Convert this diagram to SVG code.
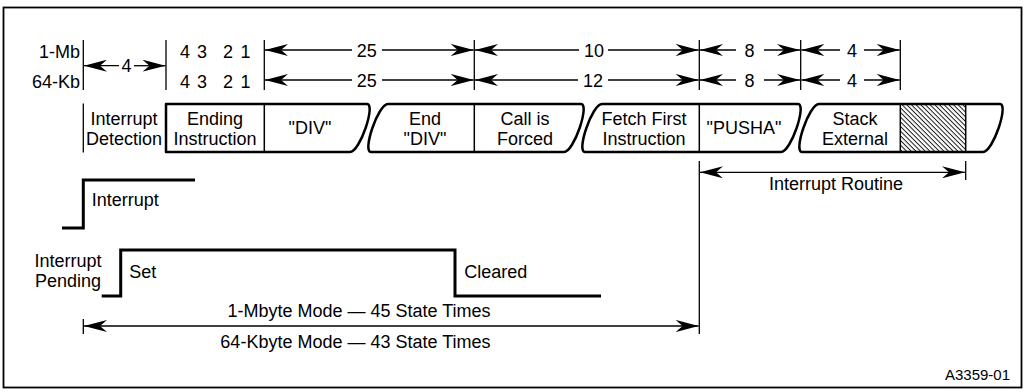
<svg xmlns="http://www.w3.org/2000/svg" width="1026" height="392" viewBox="0 0 1026 392">
<style>
text{font-family:"Liberation Sans",Arial,Helvetica,sans-serif;font-size:18px;fill:#000}
.m{text-anchor:middle}
.e{text-anchor:end}
.tk{stroke:#000;stroke-width:1.3;fill:none}
.ar{stroke:#000;stroke-width:1.3;fill:none}
.seg{stroke:#000;stroke-width:2.5;fill:none;stroke-linejoin:round}
.dv{stroke:#000;stroke-width:1.5}
.sig{stroke:#000;stroke-width:3;fill:none;stroke-linejoin:miter}
</style>
<defs>
<marker id="ah" viewBox="-23 -6 23 12" refX="0" refY="0" markerWidth="23" markerHeight="12" markerUnits="userSpaceOnUse" orient="auto-start-reverse">
<path d="M0,0 L-23,-6 L-16,0 L-23,6 Z" fill="#000"/>
</marker>
<pattern id="hatch" width="3.3" height="3.3" patternUnits="userSpaceOnUse" patternTransform="rotate(45)">
<line x1="0" y1="0.5" x2="3.3" y2="0.5" stroke="#000" stroke-width="0.9"/>
</pattern>
</defs>
<rect id="frame" x="3.5" y="7.5" width="1018" height="380" fill="#fff" stroke="#000" stroke-width="1.8"/>

<g id="scale-labels">
<text class="e" x="80" y="57.5">1-Mb</text>
<text class="e" x="80" y="87.5">64-Kb</text>
<text class="m" x="185" y="57.5">4</text><text class="m" x="202" y="57.5">3</text><text class="m" x="228" y="57.5">2</text><text class="m" x="245.5" y="57.5">1</text>
<text class="m" x="185" y="87.5">4</text><text class="m" x="202" y="87.5">3</text><text class="m" x="228" y="87.5">2</text><text class="m" x="245.5" y="87.5">1</text>
<text class="m" x="126.5" y="72">4</text>
<text class="m" x="366.7" y="56.5">25</text>
<text class="m" x="594" y="56.5">10</text>
<text class="m" x="749.5" y="56.5">8</text>
<text class="m" x="852" y="56.5">4</text>
<text class="m" x="366.7" y="86.5">25</text>
<text class="m" x="593" y="86.5">12</text>
<text class="m" x="749.5" y="86.5">8</text>
<text class="m" x="852" y="86.5">4</text>
</g>

<g id="connectors">
<g class="tk">
<line x1="83.3" y1="40" x2="83.3" y2="90"/>
<line x1="166" y1="40" x2="166" y2="90"/>
<line x1="264.3" y1="40" x2="264.3" y2="90"/>
<line x1="474.3" y1="40" x2="474.3" y2="90"/>
<line x1="699.3" y1="40" x2="699.3" y2="90"/>
<line x1="800.7" y1="40" x2="800.7" y2="90"/>
<line x1="900.3" y1="40" x2="900.3" y2="90"/>
<line x1="83.3" y1="103.5" x2="83.3" y2="152.5"/>
<line x1="699.3" y1="161" x2="699.3" y2="334"/>
<line x1="965.7" y1="161" x2="965.7" y2="180"/>
<line x1="83.3" y1="319" x2="83.3" y2="334"/>
</g>
<g class="ar">
<line x1="84" y1="65.7" x2="119" y2="65.7" marker-start="url(#ah)"/>
<line x1="134" y1="65.7" x2="165.5" y2="65.7" marker-end="url(#ah)"/>
<line x1="265" y1="50" x2="352" y2="50" marker-start="url(#ah)"/>
<line x1="382" y1="50" x2="473.7" y2="50" marker-end="url(#ah)"/>
<line x1="475" y1="50" x2="579" y2="50" marker-start="url(#ah)"/>
<line x1="608" y1="50" x2="698.7" y2="50" marker-end="url(#ah)"/>
<line x1="700" y1="50" x2="736" y2="50" marker-start="url(#ah)"/>
<line x1="764" y1="50" x2="800" y2="50" marker-end="url(#ah)"/>
<line x1="801.4" y1="50" x2="840" y2="50" marker-start="url(#ah)"/>
<line x1="864" y1="50" x2="899.7" y2="50" marker-end="url(#ah)"/>
<line x1="265" y1="80" x2="352" y2="80" marker-start="url(#ah)"/>
<line x1="382" y1="80" x2="473.7" y2="80" marker-end="url(#ah)"/>
<line x1="475" y1="80" x2="578" y2="80" marker-start="url(#ah)"/>
<line x1="608" y1="80" x2="698.7" y2="80" marker-end="url(#ah)"/>
<line x1="700" y1="80" x2="736" y2="80" marker-start="url(#ah)"/>
<line x1="764" y1="80" x2="800" y2="80" marker-end="url(#ah)"/>
<line x1="801.4" y1="80" x2="840" y2="80" marker-start="url(#ah)"/>
<line x1="864" y1="80" x2="899.7" y2="80" marker-end="url(#ah)"/>
<line x1="700" y1="172.3" x2="965" y2="172.3" marker-start="url(#ah)" marker-end="url(#ah)"/>
<line x1="84" y1="326" x2="698.6" y2="326" marker-start="url(#ah)" marker-end="url(#ah)"/>
</g>
</g>

<g id="node-interrupt-detection">
<text class="m" x="124" y="125">Interrupt</text>
<text class="m" x="124" y="144.5">Detection</text>
</g>

<g id="node-seg1">
<path class="seg" d="M350,152 L166,152 L166,104 L367,104 C376,104 360,152 350,152"/>
<line class="dv" x1="264.3" y1="104" x2="264.3" y2="152"/>
<text class="m" x="215" y="125">Ending</text>
<text class="m" x="215" y="144.5">Instruction</text>
<text class="m" x="310" y="133.5">"DIV"</text>
</g>

<g id="node-seg2">
<path class="seg" d="M388,104 L581,104 C590,104 574,152 564,152 L371,152 C362,152 378,104 388,104 Z"/>
<line class="dv" x1="474.3" y1="104" x2="474.3" y2="152"/>
<text class="m" x="425" y="125">End</text>
<text class="m" x="425" y="144.5">"DIV"</text>
<text class="m" x="525" y="125">Call is</text>
<text class="m" x="525" y="144.5">Forced</text>
</g>

<g id="node-seg3">
<path class="seg" d="M602,104 L798,104 C807,104 791,152 781,152 L585,152 C576,152 592,104 602,104 Z"/>
<line class="dv" x1="699.3" y1="104" x2="699.3" y2="152"/>
<text class="m" x="644" y="125">Fetch First</text>
<text class="m" x="644" y="144.5">Instruction</text>
<text class="m" x="744" y="134">"PUSHA"</text>
</g>

<g id="node-seg4">
<rect x="900.3" y="104" width="65.4" height="48" fill="url(#hatch)"/>
<path class="seg" d="M819,104 L1000,104 C1009,104 993,152 983,152 L802,152 C793,152 809,104 819,104 Z"/>
<line class="dv" x1="900.3" y1="104" x2="900.3" y2="152"/>
<line class="dv" x1="965.7" y1="104" x2="965.7" y2="152"/>
<text class="m" x="855" y="125">Stack</text>
<text class="m" x="855" y="144.5">External</text>
</g>

<g id="node-routine-label">
<text class="m" x="836" y="190">Interrupt Routine</text>
</g>

<g id="signal-interrupt">
<path class="sig" d="M62,228 L83.3,228 L83.3,180 L195,180"/>
<text x="91.7" y="206">Interrupt</text>
</g>

<g id="signal-pending">
<path class="sig" d="M101.7,296 L120.7,296 L120.7,250 L455,250 L455,296 L601,296"/>
<text class="m" x="68" y="266.5">Interrupt</text>
<text class="m" x="68" y="287">Pending</text>
<text x="129.3" y="278">Set</text>
<text x="464.3" y="278">Cleared</text>
</g>

<g id="mode-labels">
<text class="e" x="490.5" y="316.5">1-Mbyte Mode — 45 State Times</text>
<text class="e" x="490.5" y="348">64-Kbyte Mode — 43 State Times</text>
</g>

<text id="fig-id" class="e" x="1010" y="380" style="font-size:15px">A3359-01</text>
</svg>
